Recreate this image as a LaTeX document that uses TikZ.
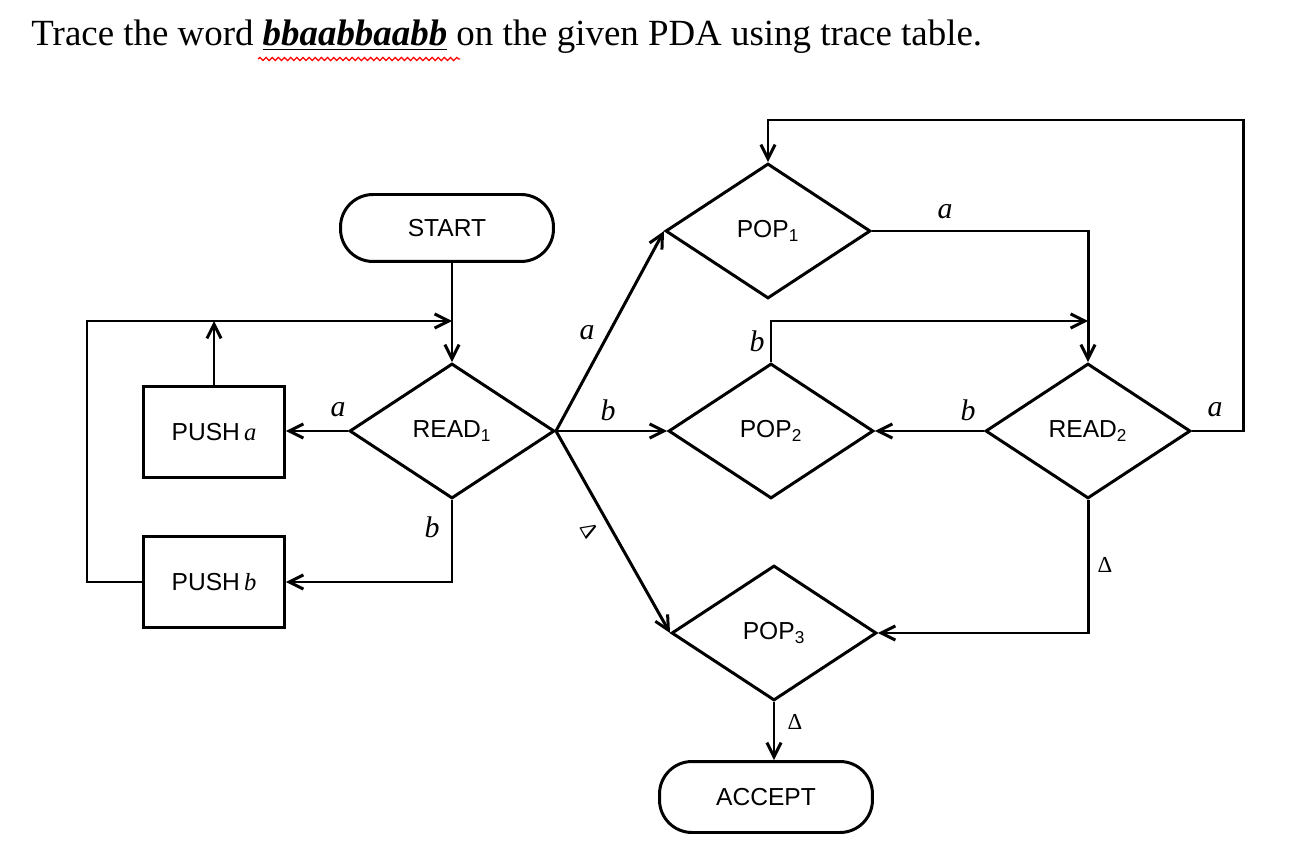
\documentclass[tikz,border=0pt]{standalone}
\usepackage{fontspec}
\setmainfont{Liberation Serif}
\newfontfamily\diagfont{Liberation Sans}
\newcommand{\iv}[1]{{\rmfamily\itshape #1}}
\usetikzlibrary{shapes.geometric,arrows.meta,decorations.pathmorphing}
\begin{document}
\begin{tikzpicture}[x=0.02cm,y=-0.02cm,
  line width=1.7pt,
  dia/.style={draw,diamond,inner sep=0pt,minimum width=4.1cm,minimum height=2.7cm,font=\diagfont\fontsize{14}{16}\selectfont},
  term/.style={draw,rounded corners=0.65cm,minimum width=4.26cm,minimum height=1.34cm,font=\diagfont\fontsize{14}{16}\selectfont},
  pbox/.style={draw,minimum width=2.82cm,minimum height=1.82cm,font=\diagfont\fontsize{14}{16}\selectfont},
  arr/.style={-{Straight Barb[length=8pt,width=8pt]}},
  lab/.style={font=\rmfamily\itshape\fontsize{17}{17}\selectfont,inner sep=1pt},
  dlab/.style={font=\rmfamily\fontsize{13}{13}\selectfont,inner sep=1pt}]
\fill[white] (0,0) rectangle (1306,868);
\useasboundingbox (0,0) rectangle (1306,868);

% title
\node[anchor=base west,inner sep=0pt,font=\fontsize{21}{25}\selectfont] (title) at (30,46)
  {Trace the word \underline{\textbf{\textit{bbaabbaabb}}} on the given PDA using trace table.};
\draw[red,line width=0.7pt,decorate,decoration={snake,amplitude=0.9pt,segment length=3.5pt}] (258,59) -- (460,59);

% nodes
\node[term] (start) at (447,228) {START};
\node[dia] (read1) at (452,431) {READ\textsubscript{1}};
\node[pbox] (pusha) at (214,432) {PUSH\,\iv{a}};
\node[pbox] (pushb) at (214,582) {PUSH\,\iv{b}};
\node[dia] (pop1) at (768,231) {POP\textsubscript{1}};
\node[dia] (pop2) at (771,431) {POP\textsubscript{2}};
\node[dia] (pop3) at (774,633) {POP\textsubscript{3}};
\node[dia] (read2) at (1088,431) {READ\textsubscript{2}};
\node[term,minimum height=1.42cm] (accept) at (766,797) {ACCEPT};

\coordinate (loopL) at (87,321);
\coordinate (loopJ) at (452,321);
\coordinate (j2) at (1088,321);
\coordinate (topR) at (1243,120);

% connectors
\draw[arr] (read1.north |- start.south) -- (read1.north);
\draw[arr] (pushb.west) -| (loopL) -- (loopJ);
\draw[arr] (pusha.north) -- (pusha.north |- loopL);
\draw[arr] (read1.west) -- (read1.west -| pusha.east);
\draw[arr] (read1.south) |- (pushb.east);
\draw[arr] (read1.east) -- (pop1.west);
\draw[arr] (read1.east) -- (pop2.west);
\draw[arr] (read1.east) -- (pop3.west);
\draw[arr] (pop1.east) -| (read2.north);
\draw[arr] (pop2.north) |- (j2);
\draw[arr] (read2.west) -- (pop2.east);
\draw[arr] (read2.east) -| (topR) -| (pop1.north);
\draw[arr] (read2.south) |- (pop3.east);
\draw[arr] (pop3.south) -- (pop3.south |- accept.north);

% labels
\node[lab] at (338,410) {a};
\node[lab] at (432,527) {b};
\node[lab] at (587,333) {a};
\node[lab] at (608,410) {b};
\node[dlab,rotate=-60] at (590,530) {Δ};
\node[lab] at (945,212) {a};
\node[lab] at (757,341) {b};
\node[lab] at (968,410) {b};
\node[lab] at (1215,410) {a};
\node[dlab] at (1105,565) {Δ};
\node[dlab] at (795,722) {Δ};
\end{tikzpicture}
\end{document}
